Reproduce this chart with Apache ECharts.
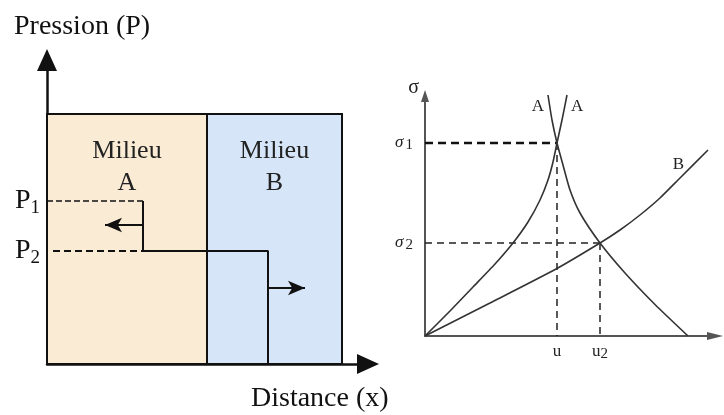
<!DOCTYPE html>
<html>
<head>
<meta charset="utf-8">
<script src="https://cdn.jsdelivr.net/npm/echarts@6/dist/echarts.min.js"></script>
<style>
    html, body { margin: 0; padding: 0; background: #fff; }
    #chart { width: 724px; height: 415px; }
</style>
</head>
<body>
<div id="chart"></div>
<script>
(function (echarts) {
    "use strict";

    // ---- left panel : pression / distance (1 unit = 5 px) ----
    var pressureTicks = [32.6, 22.6];           // P1, P2
    var pressureSubs = ['1', '2'];
    var mediumNames = ['A', 'B'];
    var mediumBounds = [0, 32, 59];             // x limits of milieu A / B
    var mediumTop = 50;
    var stepX = [19.2, 44.2];                   // position of the two pressure fronts
    var dashStartP2 = 1.2;
    var arrowLeft = [[19.2, 27.8], [11.6, 27.8]];
    var arrowRight = [[44.2, 15.2], [51.6, 15.2]];

    // ---- right panel : sigma / u ----
    var curveA1 = [[0, 0], [5, 5], [9.6, 9.8], [14, 14.4], [17.6, 18.6], [20.6, 22.8], [23, 27.2],
        [24.6, 31.2], [25.6, 34.8], [26.4, 38.6], [27.4, 43.2], [28.4, 48.2]];
    var curveA2 = [[52.6, 0], [46, 6.3], [40, 12.6], [35, 18.6], [31, 24.6], [29, 29.2],
        [27.6, 34.2], [26.4, 38.6], [25.4, 43.2], [24.6, 48.2]];
    var curveB = [[0, 0], [13, 6.6], [26.2, 13.4], [35, 18.6], [39, 21.2], [43, 24.2],
        [47, 27.6], [51, 31.6], [56.6, 37.2]];
    var sigmaTicks = [38.6, 18.6];              // sigma1, sigma2
    var sigmaSubs = ['1', '2'];
    var uTicks = [26.4, 35];                    // u, u2
    var uSubs = ['', '2'];

    var serif = '"Liberation Serif", "DejaVu Serif", serif';

    var solidProfile = [
        [stepX[0], pressureTicks[0]],
        [stepX[0], pressureTicks[1]],
        [stepX[1], pressureTicks[1]],
        [stepX[1], 0]
    ];
    var dashP1 = [[0, pressureTicks[0]], [stepX[0], pressureTicks[0]]];
    var dashP2 = [[dashStartP2, pressureTicks[1]], [stepX[0], pressureTicks[1]]];

    var sigma1H = [[0, sigmaTicks[0]], [uTicks[0], sigmaTicks[0]]];
    var sigma1V = [[uTicks[0], sigmaTicks[0]], [uTicks[0], 0]];
    var sigma2H = [[0, sigmaTicks[1]], [uTicks[1], sigmaTicks[1]]];
    var sigma2V = [[uTicks[1], sigmaTicks[1]], [uTicks[1], 0]];

    var mediumColors = ['#faebd5', '#d6e6f8'];
    var areas = mediumNames.map(function (name, i) {
        return [{
            xAxis: mediumBounds[i], yAxis: 0,
            itemStyle: { color: mediumColors[i], borderColor: '#111', borderWidth: 2 },
            label: { formatter: 'Milieu\n' + name }
        }, {
            xAxis: mediumBounds[i + 1], yAxis: mediumTop
        }];
    });

    function arrowLine(pair) {
        return [{ coord: pair[0] }, { coord: pair[1] }];
    }

    function plainLine(data, xi, style, extra) {
        var s = {
            type: 'line',
            xAxisIndex: xi,
            yAxisIndex: xi,
            data: data,
            symbol: 'none',
            silent: true,
            clip: false,
            animation: false,
            lineStyle: style
        };
        for (var k in extra) { s[k] = extra[k]; }
        return s;
    }

    var curveStyle = { color: '#333', width: 1.6 };

    var option = {
        backgroundColor: '#fff',
        animation: false,
        title: [{
            text: 'Pression (P)',
            left: 14, top: 13, padding: 0,
            textStyle: { fontFamily: serif, fontSize: 28, fontWeight: 'normal', color: '#111' }
        }, {
            text: 'Distance (x)',
            left: 251, top: 385, padding: 0,
            textStyle: { fontFamily: serif, fontSize: 28, fontWeight: 'normal', color: '#111' }
        }],
        grid: [
            { left: 47, top: 60, width: 321, height: 304 },
            { left: 425, top: 96, width: 290, height: 240 }
        ],
        xAxis: [{
            gridIndex: 0, type: 'value', min: 0, max: 64.2,
            axisLine: { lineStyle: { color: '#111', width: 2.5 }, symbol: ['none', 'triangle'], symbolSize: [20, 22] },
            axisTick: { show: false }, axisLabel: { show: false }, splitLine: { show: false }
        }, {
            gridIndex: 1, type: 'value', min: 0, max: 58,
            axisLine: { lineStyle: { color: '#555', width: 2 }, symbol: ['none', 'triangle'], symbolSize: [8, 16] },
            axisTick: { show: false }, splitLine: { show: false },
            axisLabel: {
                customValues: uTicks,
                margin: 6,
                formatter: function (v) {
                    var i = uTicks.indexOf(v);
                    return '{t|u}' + (uSubs[i] ? '{s|' + uSubs[i] + '}' : '');
                },
                rich: {
                    t: { fontFamily: serif, fontSize: 17, color: '#222', lineHeight: 20 },
                    s: { fontFamily: serif, fontSize: 15, color: '#222', lineHeight: 20, padding: [5, 0, 0, 0] }
                }
            }
        }],
        yAxis: [{
            gridIndex: 0, type: 'value', min: 0, max: 60.8,
            axisLine: { lineStyle: { color: '#111', width: 2.5 }, symbol: ['none', 'triangle'], symbolSize: [20, 22] },
            axisTick: { show: false }, splitLine: { show: false },
            axisLabel: {
                customValues: pressureTicks,
                margin: 7,
                formatter: function (v) {
                    return '{p|P}{s|' + pressureSubs[pressureTicks.indexOf(v)] + '}';
                },
                rich: {
                    p: { fontFamily: serif, fontSize: 28, color: '#111', lineHeight: 30 },
                    s: { fontFamily: serif, fontSize: 19, color: '#111', lineHeight: 30, padding: [14, 0, 0, 0] }
                }
            }
        }, {
            gridIndex: 1, type: 'value', min: 0, max: 48,
            name: 'σ',
            nameLocation: 'end',
            nameGap: -2,
            nameTextStyle: { fontFamily: serif, fontSize: 20, color: '#222', align: 'right', padding: [0, 6, 0, 0] },
            axisLine: { lineStyle: { color: '#555', width: 2 }, symbol: ['none', 'triangle'], symbolSize: [8, 12] },
            axisTick: { show: false }, splitLine: { show: false },
            axisLabel: {
                customValues: sigmaTicks,
                margin: 12,
                formatter: function (v) {
                    return '{g|σ}{s|' + sigmaSubs[sigmaTicks.indexOf(v)] + '}';
                },
                rich: {
                    g: { fontFamily: serif, fontSize: 17, fontStyle: 'italic', color: '#222', lineHeight: 20 },
                    s: { fontFamily: serif, fontSize: 15, color: '#222', lineHeight: 20, padding: [4, 0, 0, 2] }
                }
            }
        }],
        series: [
            plainLine([], 0, { width: 0 }, {
                markArea: {
                    silent: true,
                    label: {
                        show: true, position: 'insideTop', distance: 22,
                        fontFamily: serif, fontSize: 26, lineHeight: 32, color: '#222'
                    },
                    data: areas
                }
            }),
            plainLine(dashP1, 0, { color: '#111', width: 1.5, type: [6, 3] }),
            plainLine(dashP2, 0, { color: '#111', width: 2, type: [7, 4] }),
            plainLine(solidProfile, 0, { color: '#111', width: 2 }, {
                markLine: {
                    silent: true,
                    symbol: ['none', 'arrow'],
                    symbolSize: [11, 17],
                    label: { show: false },
                    lineStyle: { color: '#111', width: 2, type: 'solid' },
                    data: [arrowLine(arrowLeft), arrowLine(arrowRight)]
                }
            }),
            plainLine(sigma1H, 1, { color: '#111', width: 2.4, type: [8, 5] }),
            plainLine(sigma1V, 1, { color: '#222', width: 1.5, type: [7, 5] }),
            plainLine(sigma2H, 1, { color: '#222', width: 1.5, type: [7, 5] }),
            plainLine(sigma2V, 1, { color: '#222', width: 1.5, type: [7, 5] }),
            plainLine(curveA1, 1, curveStyle, {
                smooth: 0.2,
                endLabel: { show: true, formatter: 'A', align: 'left', verticalAlign: 'middle', distance: 0, offset: [4, 12], fontFamily: serif, fontSize: 17, color: '#222' }
            }),
            plainLine(curveA2, 1, curveStyle, {
                smooth: 0.2,
                endLabel: { show: true, formatter: 'A', align: 'right', verticalAlign: 'middle', distance: 0, offset: [-4, 12], fontFamily: serif, fontSize: 17, color: '#222' }
            }),
            plainLine(curveB, 1, curveStyle, {
                smooth: 0.2,
                endLabel: { show: true, formatter: 'B', align: 'right', verticalAlign: 'middle', distance: 0, offset: [-24, 15], fontFamily: serif, fontSize: 17, color: '#222' }
            })
        ]
    };

    var chart = echarts.init(document.getElementById('chart'), null, { renderer: 'canvas' });
    chart.setOption(option);
}(echarts));
</script>
</body>
</html>
